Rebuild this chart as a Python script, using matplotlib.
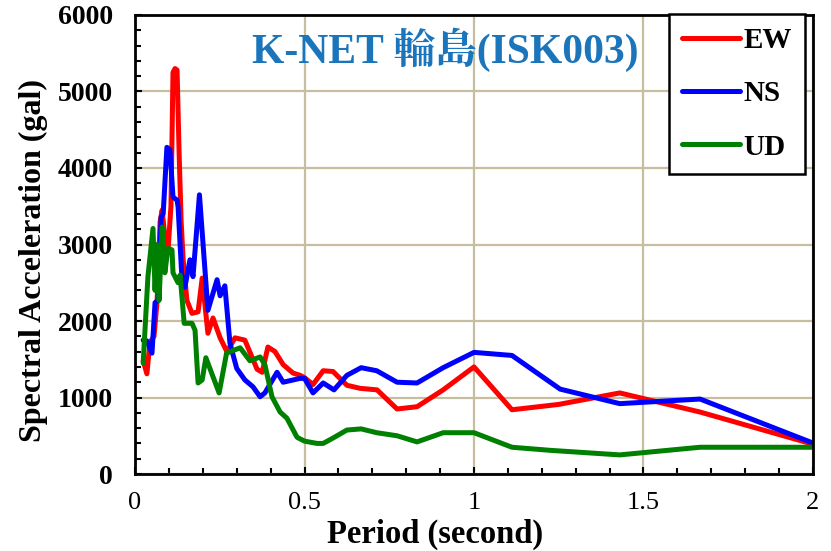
"""
Response spectrum of K-NET Wajima (ISK003), three components.
"""

import matplotlib

matplotlib.use("Agg")

import matplotlib.pyplot as plt
from matplotlib.ticker import MultipleLocator


SERIF = ["Liberation Serif", "Noto Serif CJK JP", "Noto Sans CJK JP", "DejaVu Serif"]

# EW component
ew_period = [
    0.024, 0.035, 0.044, 0.056, 0.065, 0.074, 0.080, 0.088, 0.097, 0.106,
    0.112, 0.118, 0.124, 0.130, 0.136, 0.142, 0.153, 0.168, 0.186, 0.198,
    0.215, 0.230, 0.251, 0.271, 0.295, 0.324, 0.360, 0.375, 0.392, 0.413,
    0.437, 0.466, 0.487, 0.500, 0.525, 0.555, 0.584, 0.625, 0.664, 0.714,
    0.773, 0.832, 0.909, 1.000, 1.112, 1.250, 1.430, 1.667, 2.000,
]
ew_value = [
    1480, 1310, 1720, 1800, 2250, 3300, 3450, 3100, 2900, 3500,
    5250, 5300, 5280, 4200, 3300, 2800, 2270, 2100, 2120, 2560,
    1840, 2040, 1780, 1600, 1780, 1750, 1370, 1330, 1660, 1600,
    1430, 1320, 1290, 1260, 1170, 1350, 1340, 1160, 1120, 1100,
    850, 880, 1100, 1400, 840, 910, 1060, 810, 390,
]

# NS component
ns_period = [
    0.024, 0.035, 0.050, 0.059, 0.068, 0.077, 0.083, 0.094, 0.103, 0.112,
    0.124, 0.127, 0.139, 0.147, 0.162, 0.171, 0.190, 0.215, 0.242, 0.251,
    0.265, 0.280, 0.300, 0.324, 0.348, 0.369, 0.383, 0.419, 0.437, 0.487,
    0.500, 0.525, 0.555, 0.587, 0.625, 0.667, 0.713, 0.773, 0.832, 0.909,
    1.000, 1.112, 1.254, 1.430, 1.667, 2.000,
]
ns_value = [
    1750, 1740, 1580, 2240, 2270, 3360, 3400, 4270, 4240, 3620,
    3580, 3490, 2500, 2440, 2800, 2580, 3650, 2140, 2540, 2330,
    2460, 1710, 1380, 1230, 1140, 1010, 1060, 1330, 1200, 1250,
    1250, 1060, 1190, 1100, 1290, 1390, 1350, 1200, 1190, 1390,
    1590, 1550, 1110, 920, 980, 405,
]

# UD component
ud_period = [
    0.024, 0.038, 0.053, 0.059, 0.065, 0.071, 0.080, 0.088, 0.097, 0.109,
    0.112, 0.127, 0.133, 0.145, 0.168, 0.177, 0.186, 0.198, 0.209, 0.248,
    0.270, 0.310, 0.339, 0.369, 0.383, 0.404, 0.428, 0.448, 0.478, 0.500,
    0.537, 0.555, 0.584, 0.625, 0.667, 0.713, 0.773, 0.832, 0.909, 1.000,
    1.112, 1.224, 1.430, 1.667, 2.000,
]
ud_value = [
    1450, 2580, 3210, 2400, 3000, 2270, 3230, 2630, 2950, 2930,
    2630, 2500, 2600, 1970, 1970, 1880, 1190, 1230, 1520, 1060,
    1580, 1650, 1480, 1530, 1430, 1010, 810, 730, 480, 430,
    400, 400, 470, 575, 590, 540, 500, 420, 540, 540,
    350, 310, 250, 350, 350,
]

SERIES = [
    ("EW", ew_period, ew_value, "#FF0000"),
    ("NS", ns_period, ns_value, "#0000FF"),
    ("UD", ud_period, ud_value, "#008000"),
]


fig = plt.figure(figsize=(8.31, 5.51), dpi=100)
ax = fig.add_axes((0.1625, 0.1397, 0.8158, 0.8331))

for name, period, value, color in SERIES:
    ax.plot(period, value, color=color, linewidth=3.6, label=name,
            solid_joinstyle="round", solid_capstyle="round")

ax.set_xlim(0, 2)
ax.set_ylim(0, 6000)
ax.xaxis.set_major_locator(MultipleLocator(0.5))
ax.xaxis.set_minor_locator(MultipleLocator(0.1))
ax.yaxis.set_major_locator(MultipleLocator(1000))
ax.yaxis.set_minor_locator(MultipleLocator(200))
ax.set_xticks([0, 0.5, 1, 1.5, 2], ["0", "0.5", "1", "1.5", "2"])

ax.grid(True, which="major", color="#C6BE9C", linewidth=1.6)
ax.set_axisbelow(True)

ax.tick_params(which="both", direction="in", color="black", width=1.5)
ax.tick_params(which="major", length=5)
ax.tick_params(which="minor", length=4)
ax.tick_params(axis="x", pad=13)
ax.tick_params(axis="y", pad=16)

for label in ax.get_xticklabels():
    label.set_fontfamily(SERIF)
    label.set_fontsize(19)
for label in ax.get_yticklabels():
    label.set_fontfamily(SERIF)
    label.set_fontsize(20)
    label.set_fontweight("bold")

for spine in ax.spines.values():
    spine.set_linewidth(2.0)
    spine.set_color("black")

ax.set_xlabel("Period (second)", family=SERIF, fontsize=23.5, fontweight="bold")
ax.xaxis.set_label_coords(0.4425, -0.098)
ax.set_ylabel("Spectral Acceleration (gal)", family=SERIF, fontsize=23,
              fontweight="bold")
ax.yaxis.set_label_coords(-0.128, 0.466)

ax.text(0.457, 0.924, "K-NET 輪島(ISK003)", transform=ax.transAxes,
        ha="center", va="center", family=SERIF, fontsize=30,
        fontweight="bold", color="#1B75BB")

legend = ax.legend(
    loc="upper right",
    bbox_to_anchor=(805 / 831, 1 - 14 / 551),
    bbox_transform=fig.transFigure,
    prop={"family": SERIF, "size": 21, "weight": "bold"},
    frameon=True,
    fancybox=False,
    framealpha=1,
    edgecolor="black",
    handlelength=2.0,
    handletextpad=0.1,
    labelspacing=0.9,
    borderpad=0.45,
    borderaxespad=0,
)
legend.get_frame().set_linewidth(1.8)

fig.savefig("out.png", dpi=100)
